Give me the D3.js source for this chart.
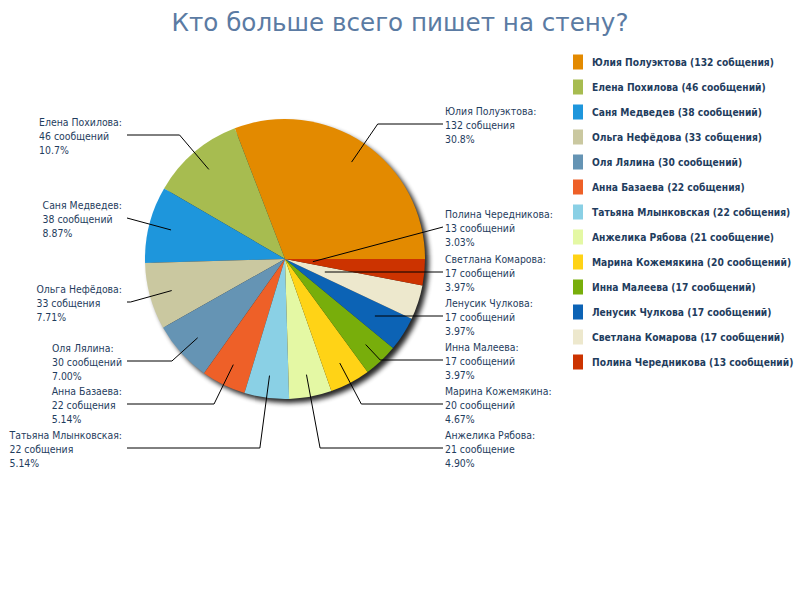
<!DOCTYPE html>
<html>
    <head>
        <meta charset="utf-8">
        <style>
            body { margin: 0; background: #fff; }
            text { font-family: "DejaVu Sans Condensed", "DejaVu Sans", Verdana, sans-serif; }
        </style>
    </head>
    <body>
        <script src="https://d3js.org/d3.v7.min.js"></script>
        <svg id="mgSvg" width="800" height="600"></svg>

        <script>
            const names = ['Юлия Полуэктова', 'Елена Похилова', 'Саня Медведев', 'Ольга Нефёдова', 'Оля Лялина',
                           'Анна Базаева', 'Татьяна Млынковская', 'Анжелика Рябова', 'Марина Кожемякина',
                           'Инна Малеева', 'Ленусик Чулкова', 'Светлана Комарова', 'Полина Чередникова'];
            const values = [132, 46, 38, 33, 30, 22, 22, 21, 20, 17, 17, 17, 13];
            const words = ['собщения', 'сообщений', 'сообщений', 'собщения', 'сообщений', 'собщения', 'собщения',
                           'сообщение', 'сообщений', 'сообщений', 'сообщений', 'сообщений', 'сообщений'];
            const percents = ['30.8%', '10.7%', '8.87%', '7.71%', '7.00%', '5.14%', '5.14%',
                              '4.90%', '4.67%', '3.97%', '3.97%', '3.97%', '3.03%'];
            const colors = ['#e38a00', '#a7bc50', '#1e96dc', '#cac8a0', '#6594b4', '#ee6028', '#8ad0e5',
                            '#e4f8a4', '#ffd316', '#78ae0b', '#0c63b5', '#ede8cd', '#cc3300'];
            // y of the horizontal part of each leader line (layout only)
            const labelY = [124, 135, 218, 302, 361, 404, 448, 448, 404, 360, 316, 272, 227];

            const data = names.map((name, i) => ({name, value: values[i], word: words[i], pct: percents[i], color: colors[i], ly: labelY[i]}));

            const svg = d3.select('body #mgSvg');
            const cx = 285, cy = 259, R = 140;
            const textColor = '#1f3d5e';

            // title
            svg.append('text')
               .text('Кто больше всего пишет на стену?')
               .attr('x', 400)
               .attr('y', 31)
               .attr('text-anchor', 'middle')
               .style('font-family', '"DejaVu Sans", sans-serif')
               .attr('font-size', '24.6px')
               .attr('fill', '#5b7ba3');

            // shadow
            const defs = svg.append('defs');
            defs.append('filter').attr('id', 'blur')
                .attr('x', '-20%').attr('y', '-20%').attr('width', '140%').attr('height', '140%')
                .append('feGaussianBlur').attr('stdDeviation', 2.5);

            const g = svg.append('g').attr('transform', `translate(${cx}, ${cy})`);
            g.append('circle')
             .attr('cx', 4).attr('cy', 4).attr('r', R)
             .attr('fill', '#000').attr('opacity', 0.85)
             .attr('filter', 'url(#blur)');

            // pie: starts at 3 o'clock, goes counter-clockwise
            const pie = d3.pie().sort(null).value(d => d.value)
                          .startAngle(Math.PI / 2)
                          .endAngle(Math.PI / 2 - 2 * Math.PI);
            const arc = d3.arc().innerRadius(0).outerRadius(R);
            const arcs = pie(data);

            g.selectAll('.slice')
             .data(arcs)
             .enter()
             .append('path')
             .attr('class', 'slice')
             .attr('d', arc)
             .attr('fill', d => d.data.color);

            // leader lines + labels
            const rIn = R * 0.84;
            const lines = svg.append('g');
            const labels = svg.append('g');

            arcs.forEach(a => {
                const mid = (a.startAngle + a.endAngle) / 2;
                const sx = Math.sin(mid), sy = -Math.cos(mid);
                const right = sx > 0;
                const endX = right ? 443 : 127;
                const dy = a.data.ly - cy;
                let pts;
                const t = dy / sy; // distance along ray to reach label y
                if (t > 0 && isFinite(t)) {
                    const ex = cx + sx * t;
                    if (t < rIn) {
                        pts = [[ex, a.data.ly], [endX, a.data.ly]];
                    } else {
                        const st = [cx + sx * rIn, cy + sy * rIn];
                        if ((right && ex >= endX) || (!right && ex <= endX)) pts = [st, [endX, a.data.ly]];
                        else pts = [st, [ex, a.data.ly], [endX, a.data.ly]];
                    }
                } else {
                    pts = [[cx + sx * R * 0.2, cy + sy * R * 0.2], [endX, a.data.ly]];
                }
                lines.append('path')
                     .attr('d', d3.line()(pts))
                     .attr('fill', 'none')
                     .attr('stroke', '#000')
                     .attr('stroke-width', 1);

                const tg = labels.append('text')
                                 .attr('font-size', '10.4px')
                                 .attr('fill', textColor);
                [a.data.name + ':', a.data.value + ' ' + a.data.word, a.data.pct].forEach((s, k) => {
                    tg.append('tspan').text(s)
                      .attr('y', a.data.ly + 4.5 + (k - 1) * 14);
                });
                if (right) {
                    tg.selectAll('tspan').attr('x', 445);
                } else {
                    let w = 0;
                    tg.selectAll('tspan').each(function () { w = Math.max(w, this.getComputedTextLength()); });
                    tg.selectAll('tspan').attr('x', 122 - w);
                }
            });

            // legend
            const legend = svg.append('g').attr('transform', 'translate(573, 62)');
            const item = legend.selectAll('.item')
                               .data(data)
                               .enter()
                               .append('g')
                               .attr('class', 'item')
                               .attr('transform', (d, i) => `translate(0, ${i * 25})`);
            item.append('rect')
                .attr('x', 0).attr('y', -7.5)
                .attr('width', 10).attr('height', 15)
                .attr('fill', d => d.color);
            item.append('text')
                .text(d => `${d.name} (${d.value} ${d.word})`)
                .attr('x', 19)
                .attr('y', 4)
                .attr('font-size', '10.2px')
                .attr('font-weight', 'bold')
                .attr('fill', textColor);
        </script>
    </body>
</html>
